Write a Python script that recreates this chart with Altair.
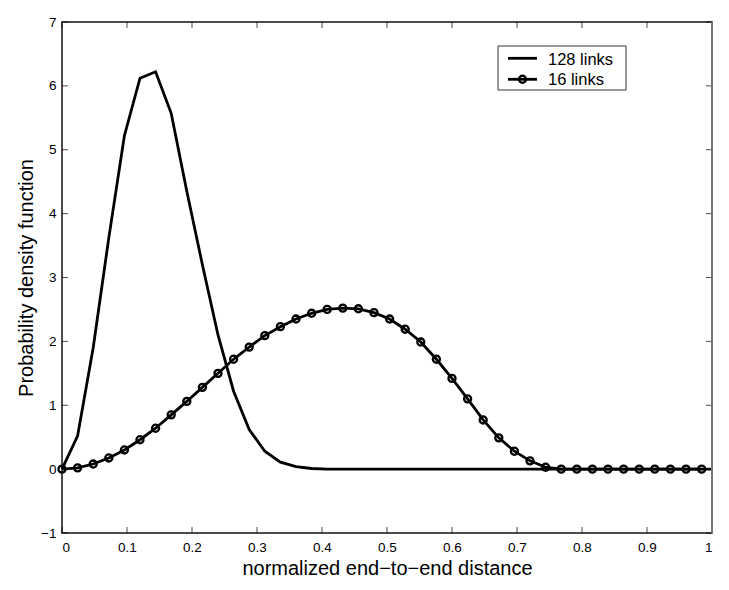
import altair as alt
import pandas as pd

# ---- data ----
x_grid = [0.000, 0.024, 0.048, 0.072, 0.096, 0.120, 0.144, 0.168, 0.192, 0.216,
          0.240, 0.264, 0.288, 0.312, 0.336, 0.360, 0.384, 0.408, 0.432, 0.456,
          0.480, 0.504, 0.528, 0.552, 0.576, 0.600, 0.624, 0.648, 0.672, 0.696,
          0.720, 0.744, 0.768, 0.792, 0.816, 0.840, 0.864, 0.888, 0.912, 0.936,
          0.960, 0.984]

y_16 = [0.00, 0.02, 0.08, 0.175, 0.30, 0.46, 0.64, 0.85, 1.06, 1.28,
        1.50, 1.72, 1.91, 2.09, 2.23, 2.35, 2.44, 2.50, 2.52, 2.51,
        2.45, 2.35, 2.19, 1.99, 1.72, 1.42, 1.10, 0.77, 0.49, 0.28,
        0.13, 0.03, 0.00, 0.00, 0.00, 0.00, 0.00, 0.00, 0.00, 0.00,
        0.00, 0.00]

x_128 = x_grid + [1.0]
y_128 = [0.00, 0.52, 1.90, 3.62, 5.22, 6.12, 6.22, 5.57, 4.35, 3.20,
         2.10, 1.22, 0.62, 0.28, 0.11, 0.04, 0.01, 0.00, 0.00, 0.00,
         0.00, 0.00, 0.00, 0.00, 0.00, 0.00, 0.00, 0.00, 0.00, 0.00,
         0.00, 0.00, 0.00, 0.00, 0.00, 0.00, 0.00, 0.00, 0.00, 0.00,
         0.00, 0.00, 0.00]

series_names = ["128 links", "16 links"]
x_ticks = [0, 0.1, 0.2, 0.3, 0.4, 0.5, 0.6, 0.7, 0.8, 0.9, 1]
y_ticks = [-1, 0, 1, 2, 3, 4, 5, 6, 7]
x_title = "normalized end\u2212to\u2212end distance"
y_title = "Probability density function"

FONT = "Liberation Sans"
W, H = 650, 511

xs = alt.Scale(domain=[0, 1], nice=False, zero=False)
ys = alt.Scale(domain=[-1, 7], nice=False, zero=False)

X = alt.X("x:Q", scale=xs, title=x_title,
          axis=alt.Axis(values=x_ticks, format="~g", labelPadding=7,
                        titleX=325, titleY=41.5, titleBaseline="alphabetic"))
Y = alt.Y("y:Q", scale=ys, title=y_title,
          axis=alt.Axis(values=y_ticks, format="~g", labelPadding=6,
                        titleX=-30, titleY=255.5, titleBaseline="alphabetic"))

df128 = pd.DataFrame({"x": x_128, "y": y_128})
df16 = pd.DataFrame({"x": x_grid, "y": y_16})

line128 = alt.Chart(df128).mark_line(color="black", strokeWidth=2.8).encode(x=X, y=Y)
line16 = alt.Chart(df16).mark_line(color="black", strokeWidth=2.8).encode(x=X, y=Y)
pts16 = alt.Chart(df16).mark_point(shape="circle", filled=False, color="black",
                                   strokeWidth=2.3, size=50, opacity=1).encode(x=X, y=Y)

# inward ticks on all four sides
bt = pd.DataFrame({"x": x_ticks, "y": [-1] * len(x_ticks)})
tt = pd.DataFrame({"x": x_ticks, "y": [7] * len(x_ticks)})
lt = pd.DataFrame({"x": [0] * len(y_ticks), "y": y_ticks})
rt = pd.DataFrame({"x": [1] * len(y_ticks), "y": y_ticks})
tick_b = alt.Chart(bt).mark_tick(orient="vertical", size=6, thickness=1, color="black", yOffset=-3).encode(x=X, y=Y)
tick_t = alt.Chart(tt).mark_tick(orient="vertical", size=6, thickness=1, color="black", yOffset=3).encode(x=X, y=Y)
tick_l = alt.Chart(lt).mark_tick(orient="horizontal", size=6, thickness=1, color="black", xOffset=3).encode(x=X, y=Y)
tick_r = alt.Chart(rt).mark_tick(orient="horizontal", size=6, thickness=1, color="black", xOffset=-3).encode(x=X, y=Y)

right_edge = alt.Chart(pd.DataFrame({"a": [0]})).mark_rule(color="#777", strokeWidth=2).encode(
    x=alt.value(W), y=alt.value(0), y2=alt.value(H))

# legend
one = pd.DataFrame({"a": [0]})
leg_box = alt.Chart(one).mark_rect(fill="white", stroke="#333", strokeWidth=1).encode(
    x=alt.value(436), x2=alt.value(564), y=alt.value(24), y2=alt.value(68))
leg_l1 = alt.Chart(one).mark_rule(color="black", strokeWidth=2.8).encode(
    x=alt.value(446), x2=alt.value(475), y=alt.value(36.3))
leg_l2 = alt.Chart(one).mark_rule(color="black", strokeWidth=2.8).encode(
    x=alt.value(446), x2=alt.value(475), y=alt.value(57.3))
leg_p2 = alt.Chart(one).mark_point(shape="circle", filled=False, color="black",
                                   strokeWidth=2.3, size=50, opacity=1).encode(
    x=alt.value(460.5), y=alt.value(57.3))
leg_t1 = alt.Chart(one).mark_text(align="left", baseline="alphabetic", font=FONT,
                                  fontSize=16.5, color="black").encode(
    x=alt.value(486), y=alt.value(42.5), text=alt.value(series_names[0]))
leg_t2 = alt.Chart(one).mark_text(align="left", baseline="alphabetic", font=FONT,
                                  fontSize=16.5, color="black").encode(
    x=alt.value(486), y=alt.value(63.3), text=alt.value(series_names[1]))

chart = alt.layer(
    line128, line16, pts16, tick_b, tick_t, tick_l, tick_r, right_edge,
    leg_box, leg_l1, leg_l2, leg_p2, leg_t1, leg_t2
).properties(
    width=W, height=H,
    autosize=alt.AutoSizeParams(type="none"),
    padding={"left": 54, "top": 14, "right": 5, "bottom": 50},
    background="white",
).configure_view(
    stroke="#111", strokeWidth=1.5
).configure_axis(
    grid=False, ticks=False, domain=False,
    labelFont=FONT, labelFontSize=13.5, labelColor="black",
    titleFont=FONT, titleFontSize=20, titleFontWeight="normal", titleColor="black",
)

chart.save("out.html", embed_options={"renderer": "svg", "actions": False})
